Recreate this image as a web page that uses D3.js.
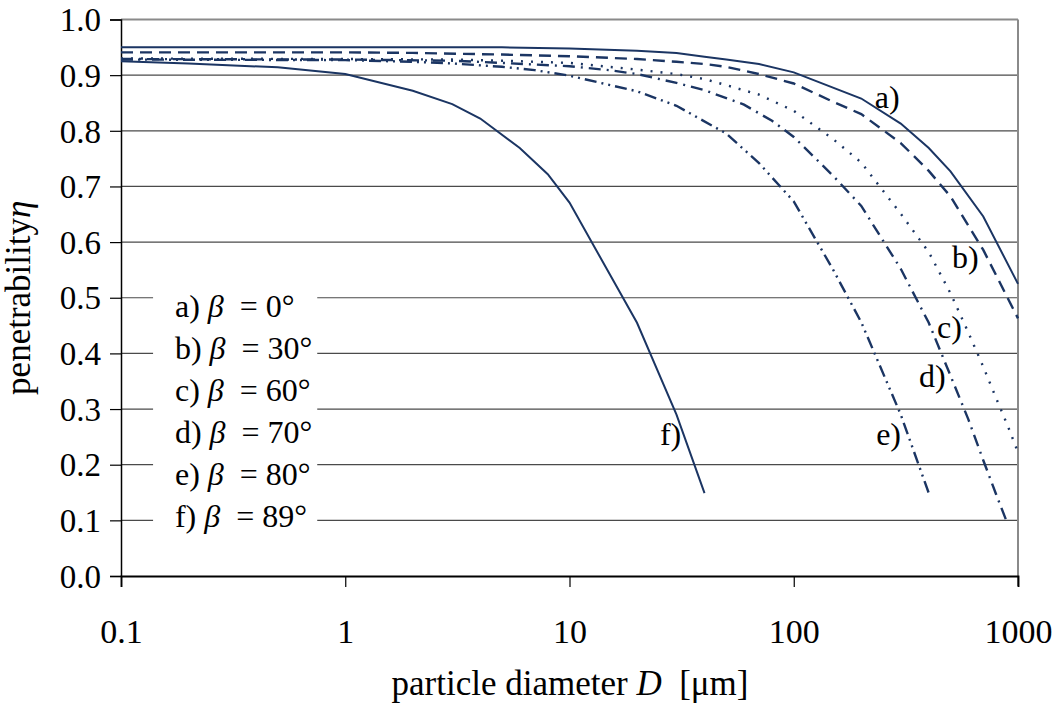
<!DOCTYPE html>
<html>
<head>
<meta charset="utf-8">
<script src="https://cdn.jsdelivr.net/npm/d3@7"></script>
<style>
  html, body { margin: 0; padding: 0; background: #fff; }
  svg text { font-family: "Liberation Serif", "Times New Roman", serif; fill: #000; }
</style>
</head>
<body>
<svg id="chart" width="1055" height="704"></svg>
<script>
// ---------- data ----------
const seriesNames = ["a)", "b)", "c)", "d)", "e)", "f)"];
const betaLabels = ["0°", "30°", "60°", "70°", "80°", "89°"];

const dA = [0.1, 1, 5, 10, 20, 30, 40, 50, 70, 100, 200, 300, 400, 500, 700, 1000];
const etaA = [0.950, 0.950, 0.950, 0.948, 0.944, 0.940, 0.933, 0.928, 0.920, 0.905, 0.858, 0.813, 0.769, 0.727, 0.646, 0.525];

const dB = [0.1, 1, 2, 5, 10, 20, 30, 40, 50, 70, 100, 150, 200, 300, 400, 500, 700, 1000];
const etaB = [0.941, 0.941, 0.940, 0.937, 0.934, 0.929, 0.924, 0.920, 0.915, 0.902, 0.885, 0.852, 0.830, 0.778, 0.728, 0.682, 0.586, 0.463];

const dC = [0.1, 1, 3, 5, 10, 20, 30, 40, 50, 70, 100, 150, 200, 300, 400, 500, 600, 700, 800, 900, 1000];
const etaC = [0.930, 0.929, 0.928, 0.926, 0.922, 0.910, 0.902, 0.893, 0.882, 0.865, 0.836, 0.785, 0.743, 0.651, 0.582, 0.508, 0.438, 0.376, 0.319, 0.270, 0.222];

const dD = [0.1, 1, 3, 5, 10, 15, 20, 30, 40, 60, 80, 100, 150, 200, 300, 400, 500, 600, 700, 800, 900];
const etaD = [0.929, 0.928, 0.926, 0.922, 0.916, 0.909, 0.902, 0.886, 0.873, 0.847, 0.818, 0.789, 0.719, 0.665, 0.552, 0.455, 0.360, 0.282, 0.208, 0.146, 0.093];

const dE = [0.1, 1, 2, 3, 5, 7, 10, 20, 30, 50, 70, 100, 150, 200, 300, 400];
const etaE = [0.928, 0.927, 0.924, 0.921, 0.915, 0.909, 0.899, 0.871, 0.845, 0.795, 0.742, 0.673, 0.550, 0.456, 0.290, 0.149];

const dF = [0.1, 0.2, 0.3, 0.5, 1, 2, 3, 4, 6, 8, 10, 20, 30, 40];
const etaF = [0.925, 0.921, 0.918, 0.914, 0.902, 0.872, 0.848, 0.822, 0.769, 0.722, 0.671, 0.455, 0.290, 0.149];

// label anchor positions in data units (D, eta)
const labelD = [230, 508, 435, 362, 233, 25.3];
const labelEta = [0.841, 0.553, 0.428, 0.340, 0.235, 0.235];

const xTicks = [0.1, 1, 10, 100, 1000];
const xTickLabels = ["0.1", "1", "10", "100", "1000"];
const yTicks = [0.0, 0.1, 0.2, 0.3, 0.4, 0.5, 0.6, 0.7, 0.8, 0.9, 1.0];

// ---------- layout ----------
const svg = d3.select("#chart");
const pL = 121, pR = 1018, pT = 19.5, pB = 576;
const x = d3.scaleLog().domain([0.1, 1000]).range([pL, pR]);
const y = d3.scaleLinear().domain([0, 1]).range([pB, pT]);

const lineColor = "#1b3563";
const series = [
  { d: dA, v: etaA, dash: null },
  { d: dB, v: etaB, dash: "12,7" },
  { d: dC, v: etaC, dash: "2,8" },
  { d: dD, v: etaD, dash: "12,6,2,6" },
  { d: dE, v: etaE, dash: "12,5,2,5,2,5" },
  { d: dF, v: etaF, dash: null }
];

// gridlines
svg.append("g")
  .selectAll("line")
  .data(yTicks.filter(t => t > 0 && t < 1))
  .join("line")
  .attr("x1", pL).attr("x2", pR)
  .attr("y1", d => y(d)).attr("y2", d => y(d))
  .attr("stroke", "#4a4a4a").attr("stroke-width", 1.2);

// top & right plot border
svg.append("line").attr("x1", pL).attr("x2", pR).attr("y1", y(1)).attr("y2", y(1))
  .attr("stroke", "#8a8a8a").attr("stroke-width", 2);
svg.append("line").attr("x1", pR).attr("x2", pR).attr("y1", y(1)).attr("y2", pB + 10)
  .attr("stroke", "#8a8a8a").attr("stroke-width", 2);

// legend box (white, covers gridlines)
const legendX0 = x(0.139), legendX1 = x(0.75);
svg.append("rect")
  .attr("x", legendX0).attr("y", y(0.51))
  .attr("width", legendX1 - legendX0).attr("height", y(0.07) - y(0.51))
  .attr("fill", "#fff");

// y axis
const yAxis = d3.axisLeft(y).tickValues(yTicks).tickSize(11).tickPadding(9)
  .tickFormat(d3.format(".1f"));
const gy = svg.append("g").attr("transform", `translate(${pL},0)`).call(yAxis);
gy.attr("font-family", null);
gy.select(".domain").attr("stroke", "#000").attr("stroke-width", 1.5);
gy.selectAll(".tick line").attr("stroke", "#000").attr("stroke-width", 1.2);
gy.selectAll(".tick text").attr("font-size", 33)
  .attr("fill", "#000").attr("dy", "0.34em");

// x axis
const xAxis = d3.axisBottom(x).tickValues(xTicks).tickSize(11).tickPadding(32)
  .tickFormat((d, i) => xTickLabels[i]);
const gx = svg.append("g").attr("transform", `translate(0,${pB})`).call(xAxis);
gx.attr("font-family", null);
gx.select(".domain").attr("stroke", "#000").attr("stroke-width", 1.8);
gx.selectAll(".tick line").attr("stroke", "#000").attr("stroke-width", 1.2);
gx.selectAll(".tick text").attr("font-size", 34)
  .attr("fill", "#000");

// series
const line = d3.line().x(p => x(p[0])).y(p => y(p[1])).curve(d3.curveLinear);
svg.append("g").selectAll("path")
  .data(series)
  .join("path")
  .attr("d", s => line(s.d.map((dv, i) => [dv, s.v[i]])))
  .attr("fill", "none")
  .attr("stroke", lineColor)
  .attr("stroke-width", s => s.dash ? 2.4 : 2)
  .attr("stroke-dasharray", s => s.dash);

// curve labels
svg.append("g").selectAll("text")
  .data(seriesNames)
  .join("text")
  .attr("x", (d, i) => x(labelD[i]))
  .attr("y", (d, i) => y(labelEta[i]))
  .attr("font-size", 32)
  .text(d => d);

// legend text
const legend = svg.append("g");
seriesNames.forEach((n, i) => {
  const t = legend.append("text")
    .attr("x", x(0.174))
    .attr("y", y(0.465) + i * 42)
    .attr("font-size", 32)
    .style("white-space", "pre");
  t.append("tspan").text(n + " ");
  t.append("tspan").attr("font-style", "italic").text("β");
  t.append("tspan").attr("dx", 8).text(" = " + betaLabels[i]);
});

// axis titles
const xt = svg.append("text")
  .attr("x", 570)
  .attr("y", 695)
  .attr("text-anchor", "middle")
  .attr("font-size", 35)
  .style("white-space", "pre");
xt.append("tspan").text("particle diameter ");
xt.append("tspan").attr("font-style", "italic").text("D");
xt.append("tspan").text("  [μm]");

const yt = svg.append("text")
  .attr("transform", `translate(30,${(pT + pB) / 2}) rotate(-90)`)
  .attr("text-anchor", "middle")
  .attr("font-size", 35);
yt.append("tspan").text("penetrability");
yt.append("tspan").attr("font-style", "italic").text("η");
</script>
</body>
</html>
